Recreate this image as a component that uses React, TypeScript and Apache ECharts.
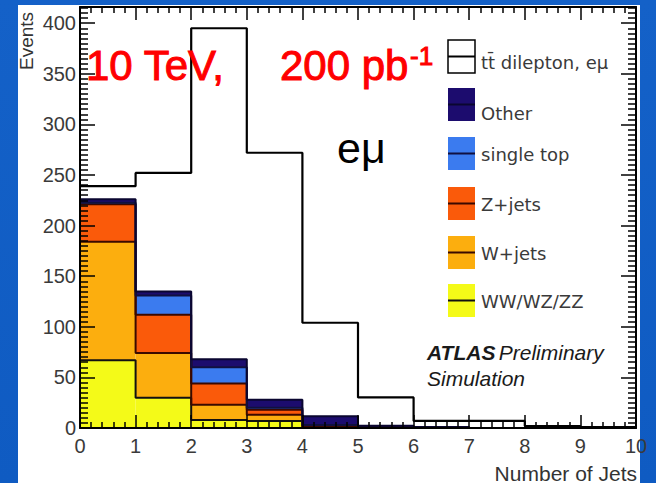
import React, { useEffect, useRef } from "react";
import * as echarts from "echarts";

// Jet-multiplicity bins (bin i spans [i, i+1])
const jetBins = ["0", "1", "2", "3", "4", "5", "6", "7", "8", "9"];
const xTickLabels = ["0", "1", "2", "3", "4", "5", "6", "7", "8", "9", "10"];
const yTickLabels = ["0", "50", "100", "150", "200", "250", "300", "350", "400"];

// Expected events per bin, stacked bottom to top
const dibosonWW = [67, 30, 8, 7, 0.5, 0.2, 0, 0, 0, 0];
const wJets = [117, 44, 15, 6, 0.5, 0, 0, 0, 0, 0];
const zJets = [37, 38, 21, 5, 1, 0, 0, 0, 0, 0];
const singleTop = [1.5, 19, 16, 2, 1, 0, 0, 0, 0, 0];
const otherBkg = [3.5, 4, 8, 8, 8.5, 2, 1, 0, 0, 0];
const ttbarDilepton = [13, 117, 327, 244, 92.5, 28, 6, 7, 2, 1];

const legendNames = ["tt\u0304 dilepton, e\u03bc", "Other", "single top", "Z+jets", "W+jets", "WW/WZ/ZZ"];

const FONT = "'Liberation Sans', Arial, sans-serif";
const LEG_FONT = "'DejaVu Sans', sans-serif";

export default function App() {
  const ref = useRef<HTMLDivElement>(null);

  useEffect(() => {
    if (!ref.current) return;
    const chart = echarts.init(ref.current, undefined, { renderer: "svg" });

    const layers = [
      { name: legendNames[5], data: dibosonWW, fill: "#f4fa18", line: "#111111" },
      { name: legendNames[4], data: wJets, fill: "#fcae0e", line: "#3a0a00" },
      { name: legendNames[3], data: zJets, fill: "#fa5a0a", line: "#3a0800" },
      { name: legendNames[2], data: singleTop, fill: "#3b7bef", line: "#101040" },
      { name: legendNames[1], data: otherBkg, fill: "#1c0c6e", line: "#0a0630" },
      { name: legendNames[0], data: ttbarDilepton, fill: "#ffffff", line: "#000000" },
    ];

    // running sums for the histogram outlines
    const cum: number[][] = [];
    let run = jetBins.map(() => 0);
    layers.forEach((l) => {
      run = run.map((v, i) => v + l.data[i]);
      cum.push(run.slice());
    });

    const barSeries = layers.map((l) => ({
      type: "bar",
      name: l.name,
      xAxisIndex: 0,
      yAxisIndex: 0,
      stack: "mc",
      barWidth: "100%",
      data: l.data,
      itemStyle: { color: l.fill },
      silent: true,
      z: 2,
    }));

    const stepSeries = layers.map((l, k) => {
      const pts: number[][] = jetBins.map((_, i) => [i, cum[k][i]]);
      pts.push([jetBins.length, cum[k][jetBins.length - 1]]);
      return {
        type: "line",
        name: l.name + " outline",
        xAxisIndex: 1,
        yAxisIndex: 0,
        step: "end",
        data: pts,
        symbol: "none",
        lineStyle: { color: l.line, width: k === layers.length - 1 ? 2.2 : 2 },
        silent: true,
        z: 3,
      };
    });

    const valueX = (pos: "top" | "bottom", labels: boolean) => ({
      type: "value",
      position: pos,
      min: 0,
      max: 10,
      interval: 1,
      z: 6,
      axisLine: { show: true, onZero: false, lineStyle: { color: "#000", width: 2 } },
      axisTick: { show: true, inside: true, length: 13, lineStyle: { color: "#000", width: 1.5 } },
      minorTick: { show: true, splitNumber: 5, length: 6, lineStyle: { color: "#000", width: 1.5 } },
      splitLine: { show: false },
      axisLabel: {
        show: labels,
        margin: 8,
        fontSize: 20,
        fontFamily: FONT,
        color: "#3a3a3a",
        formatter: (v: number) => xTickLabels[Math.round(v)] ?? "",
      },
    });

    const valueY = (pos: "left" | "right", labels: boolean) => ({
      type: "value",
      position: pos,
      min: 0,
      max: 416,
      interval: 50,
      z: 6,
      axisLine: { show: true, onZero: false, lineStyle: { color: "#000", width: 2 } },
      axisTick: { show: true, inside: true, length: 15, lineStyle: { color: "#000", width: 1.5 } },
      minorTick: { show: true, splitNumber: 10, length: 8, lineStyle: { color: "#000", width: 1.5 } },
      splitLine: { show: false },
      axisLabel: {
        show: labels,
        margin: 4,
        fontSize: 20,
        fontFamily: FONT,
        color: "#3a3a3a",
        showMaxLabel: false,
        formatter: (v: number) => (v % 50 === 0 ? yTickLabels[v / 50] ?? "" : ""),
      },
    });

    // legend drawn as graphic elements
    const legTops = [40, 88, 137, 187, 236, 284];
    const legTextY = [62, 113, 154, 204, 253, 301];
    const legOrder = [5, 4, 3, 2, 1, 0];
    const legendEls: any[] = [];
    legOrder.forEach((li, r) => {
      const l = layers[li];
      const y = legTops[r];
      legendEls.push({
        type: "rect",
        shape: { x: 448, y, width: 27, height: 33 },
        style: { fill: l.fill, stroke: li === 5 ? "#000" : null, lineWidth: 1.5 },
        z: 20,
      });
      legendEls.push({
        type: "line",
        shape: { x1: 448, y1: y + 16.5, x2: 475, y2: y + 16.5 },
        style: { stroke: l.line, lineWidth: 2 },
        z: 21,
      });
      legendEls.push({
        type: "text",
        x: 481,
        y: legTextY[r],
        style: {
          text: l.name,
          fill: "#3a3a3a",
          fontSize: 18,
          fontFamily: LEG_FONT,
          textAlign: "left",
          textVerticalAlign: "middle",
        },
        z: 21,
      });
    });

    const redText = (text: string, x: number, y: number, size: number) => ({
      type: "text",
      x,
      y,
      style: {
        text,
        fill: "#ff0000",
        stroke: "#ff0000",
        lineWidth: 1,
        fontSize: size,
        fontFamily: FONT,
        textVerticalAlign: "middle",
      },
      z: 22,
    });

    chart.setOption({
      animation: false,
      backgroundColor: "transparent",
      grid: { left: 80, right: 20, top: 7, bottom: 55, containLabel: false },
      xAxis: [
        {
          type: "category",
          data: jetBins,
          boundaryGap: true,
          show: false,
        },
        valueX("bottom", true),
        valueX("top", false),
      ],
      yAxis: [valueY("left", true), valueY("right", false)],
      series: [...barSeries, ...stepSeries],
      graphic: [
        ...legendEls,
        redText("10 TeV,", 86, 65, 42),
        redText("200 pb", 280, 65, 42),
        redText("-1", 410, 56, 26),
        {
          type: "text",
          x: 337,
          y: 148,
          style: { text: "e\u03bc", fill: "#000000", fontSize: 43, fontFamily: FONT, textVerticalAlign: "middle" },
          z: 22,
        },
        {
          type: "text",
          x: 427,
          y: 352,
          style: {
            text: "{a|ATLAS} {b|Preliminary}",
            textVerticalAlign: "middle",
            rich: {
              a: { fontSize: 21, fontFamily: FONT, fontWeight: "bold", fontStyle: "italic", fill: "#1a1a1a" },
              b: { fontSize: 21, fontFamily: FONT, fontStyle: "italic", fill: "#1a1a1a" },
            },
          },
          z: 22,
        },
        {
          type: "text",
          x: 427,
          y: 378,
          style: {
            text: "Simulation",
            fill: "#1a1a1a",
            fontSize: 21,
            fontFamily: FONT,
            fontStyle: "italic",
            textVerticalAlign: "middle",
          },
          z: 22,
        },
        {
          type: "text",
          x: 637,
          y: 473,
          style: {
            text: "Number of Jets",
            fill: "#333333",
            fontSize: 21,
            fontFamily: FONT,
            textAlign: "right",
            textVerticalAlign: "middle",
          },
          z: 22,
        },
        {
          type: "text",
          x: 26,
          y: 41,
          rotation: Math.PI / 2,
          style: {
            text: "Events",
            fill: "#333333",
            fontSize: 19,
            fontFamily: FONT,
            textAlign: "center",
            textVerticalAlign: "middle",
          },
          z: 22,
        },
      ],
    });

    return () => chart.dispose();
  }, []);

  return (
    <div
      style={{
        position: "fixed",
        left: 0,
        top: 0,
        width: 656,
        height: 483,
        background: "linear-gradient(180deg, #1461c8 0%, #0f5bc2 100%)",
        overflow: "hidden",
      }}
    >
      <div style={{ position: "absolute", left: 18, top: 5, width: 622, height: 478, background: "#ffffff" }} />
      <div ref={ref} style={{ position: "absolute", left: 0, top: 0, width: 656, height: 483 }} />
    </div>
  );
}
